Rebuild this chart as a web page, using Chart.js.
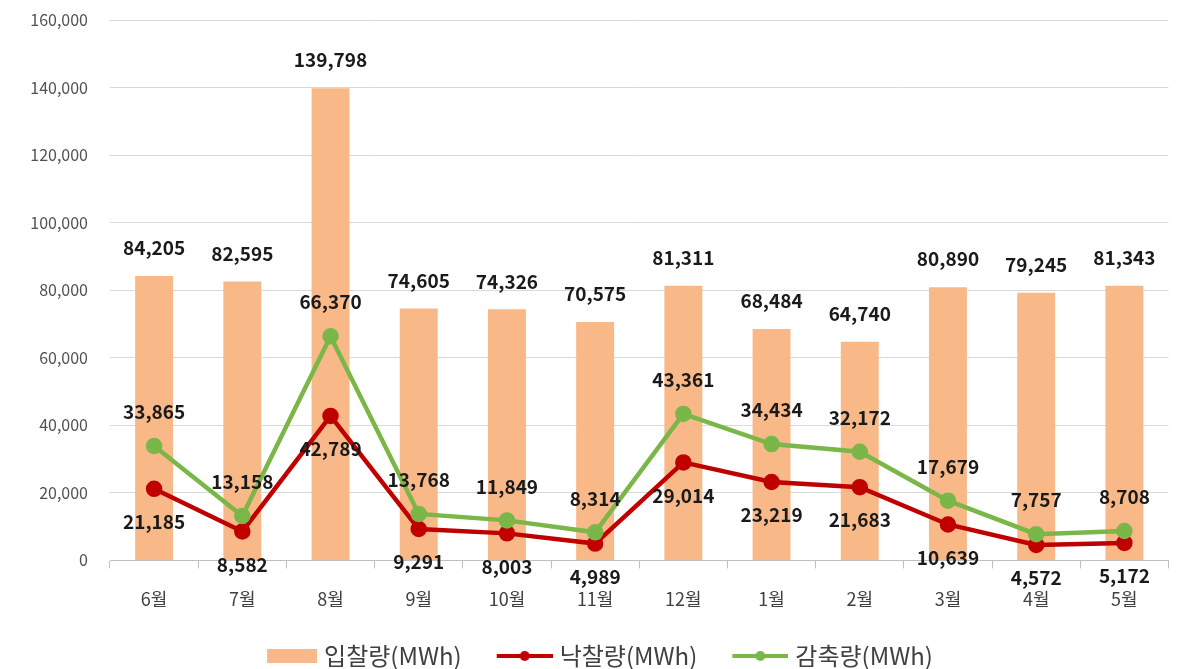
<!DOCTYPE html>
<html>
<head>
<meta charset="utf-8">
<script src="https://cdn.jsdelivr.net/npm/chart.js@4/dist/chart.umd.min.js"></script>
<style>
  html, body { margin: 0; padding: 0; background: #fff; }
  #wrap { width: 1179px; height: 669px; }
</style>
</head>
<body>
<div id="wrap"><canvas id="chart"></canvas></div>
<script>
// data
const months = ['6월', '7월', '8월', '9월', '10월', '11월', '12월', '1월', '2월', '3월', '4월', '5월'];
const bidAmount = [84205, 82595, 139798, 74605, 74326, 70575, 81311, 68484, 64740, 80890, 79245, 81343];
const awardAmount = [21185, 8582, 42789, 9291, 8003, 4989, 29014, 23219, 21683, 10639, 4572, 5172];
const curtailAmount = [33865, 13158, 66370, 13768, 11849, 8314, 43361, 34434, 32172, 17679, 7757, 8708];

const FONT = "'Malgun Gothic', 'Noto Sans CJK KR', 'Noto Sans', sans-serif";
const RED = '#C00000';
const GREEN = '#7AB648';
const ORANGE = '#F8B888';

// legend swatches. the image is a bit wider than the legend box so the
// swatch sits close to its text; blank on the left gives the item spacing
const LEG_BOX = 72;
function swatch(color, withDot) {
    const c = document.createElement('canvas');
    c.width = LEG_BOX + 10; c.height = 14;
    const g = c.getContext('2d');
    g.fillStyle = color;
    const right = c.width;
    if (withDot) {
        g.fillRect(right - 56, 5, 56, 4);
        g.beginPath();
        g.arc(right - 28, 7, 5, 0, Math.PI * 2);
        g.fill();
    } else {
        g.fillRect(right - 50, 0, 50, 14);
    }
    return c;
}

// simple value labels, drawn after datasets
const valueLabels = {
    id: 'valueLabels',
    afterDatasetsDraw(chart) {
        const ctx = chart.ctx;
        ctx.save();
        ctx.font = 'bold 19px ' + FONT;
        ctx.fillStyle = '#1a1a1a';
        ctx.textAlign = 'center';
        ctx.textBaseline = 'middle';
        chart.data.datasets.forEach((ds, i) => {
            const meta = chart.getDatasetMeta(i);
            meta.data.forEach((el, j) => {
                const txt = ds.data[j].toLocaleString('en-US');
                let y;
                if (ds.labelPos === 'barTop') y = el.y - 28;
                else if (ds.labelPos === 'below') y = el.y + 33;
                else y = el.y - 34;
                ctx.fillText(txt, el.x, y);
            });
        });
        ctx.restore();
    }
};

const swatches = [swatch(RED, true), swatch(GREEN, true), swatch(ORANGE, false)];

const ctx = document.getElementById('chart').getContext('2d');
new Chart(ctx, {
    type: 'bar',
    data: {
        labels: months,
        datasets: [{
            type: 'line',
            label: '낙찰량(MWh)',
            data: awardAmount,
            borderColor: RED,
            backgroundColor: RED,
            borderWidth: 4.5,
            pointRadius: 6,
            pointHoverRadius: 6,
            tension: 0,
            labelPos: 'below',
            order: 1
        }, {
            type: 'line',
            label: '감축량(MWh)',
            data: curtailAmount,
            borderColor: GREEN,
            backgroundColor: GREEN,
            borderWidth: 4.5,
            pointRadius: 6,
            pointHoverRadius: 6,
            tension: 0,
            labelPos: 'above',
            order: 0
        }, {
            label: '입찰량(MWh)',
            data: bidAmount,
            backgroundColor: ORANGE,
            barPercentage: 0.43,
            categoryPercentage: 1.0,
            labelPos: 'barTop',
            order: 2
        }]
    },
    options: {
        responsive: true,
        maintainAspectRatio: false,
        animation: false,
        layout: { padding: { top: 0, right: 6, left: 0, bottom: -9 } },
        scales: {
            x: {
                grid: { display: true, drawOnChartArea: false, tickLength: 8, color: '#BFBFBF' },
                border: { color: '#BFBFBF' },
                ticks: { color: '#404040', font: { size: 18, family: FONT }, padding: 20 }
            },
            y: {
                min: 0,
                max: 160000,
                afterFit(scale) {
                    scale.width = 110;
                    scale.paddingTop = 20;
                },
                grid: { color: '#D9D9D9', drawTicks: false },
                border: { display: false },
                ticks: {
                    stepSize: 20000,
                    color: '#505050',
                    padding: 22,
                    font: { size: 16, family: FONT },
                    callback: v => v.toLocaleString('en-US')
                }
            }
        },
        plugins: {
            legend: {
                position: 'bottom',
                labels: {
                    color: '#404040',
                    font: { size: 24, family: FONT },
                    usePointStyle: true,
                    pointStyleWidth: LEG_BOX,
                    boxHeight: 14,
                    padding: 14,
                    sort: (a, b) => (a.datasetIndex + 1) % 3 - (b.datasetIndex + 1) % 3,
                    generateLabels(chart) {
                        const items = Chart.defaults.plugins.legend.labels.generateLabels(chart);
                        items.forEach(it => { it.pointStyle = swatches[it.datasetIndex]; });
                        return items;
                    }
                }
            },
            tooltip: { enabled: false }
        }
    },
    plugins: [valueLabels]
});
</script>
</body>
</html>
